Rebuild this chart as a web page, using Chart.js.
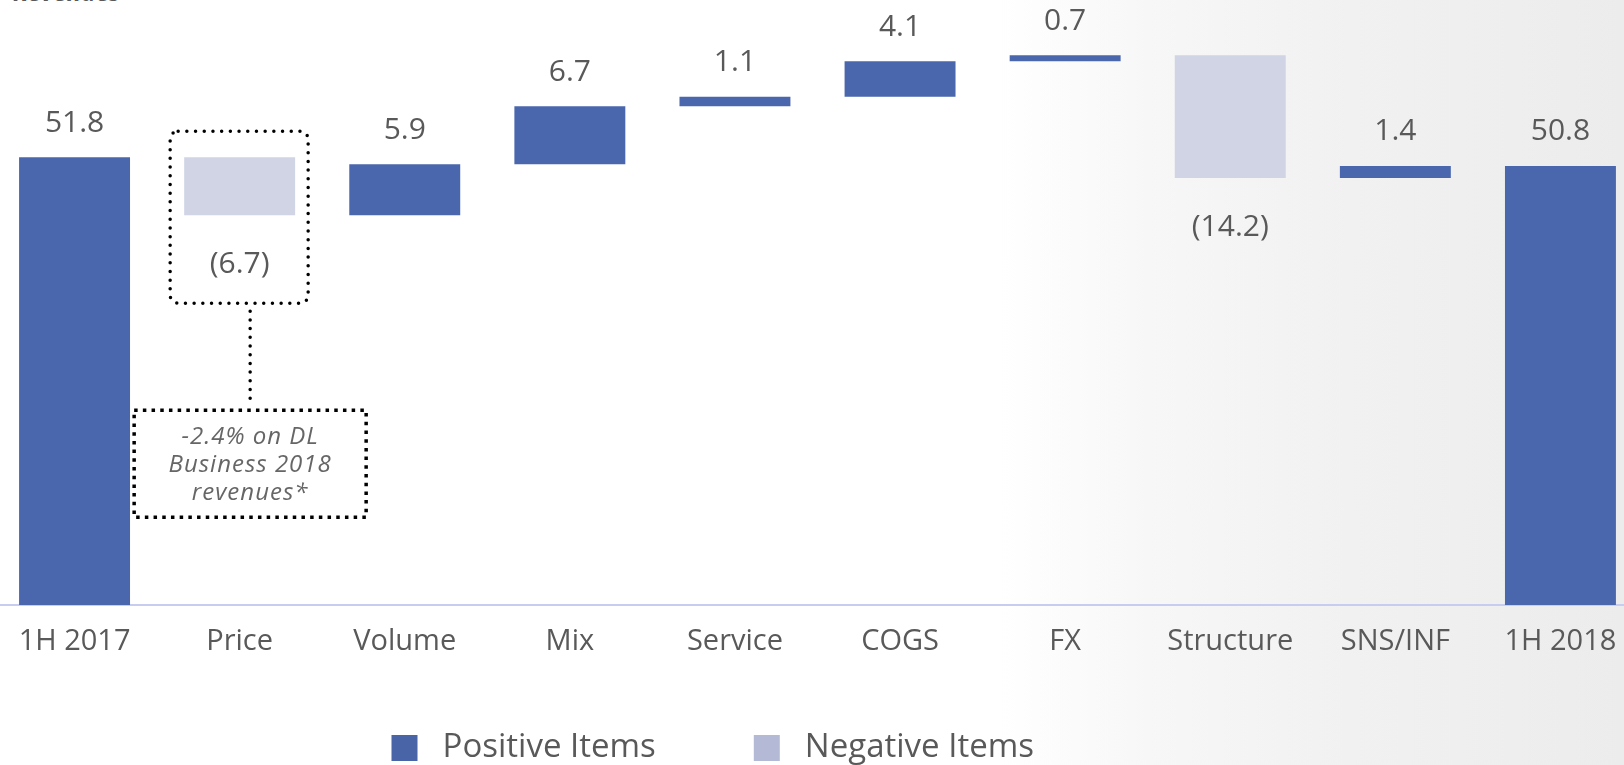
<!DOCTYPE html>
<html>
<head>
<meta charset="utf-8">
<script src="https://cdn.jsdelivr.net/npm/chart.js@4"></script>
<style>
html,body{margin:0;padding:0;width:1624px;height:765px;overflow:hidden;}
body{position:relative;background:linear-gradient(to right,#ffffff 0px,#ffffff 1000px,#f7f7f7 1150px,#f1f1f1 1350px,#ececec 1624px);font-family:'Open Sans',sans-serif;}
#wrap{position:absolute;left:-8px;top:0;width:1651px;height:765px;}
#title{position:absolute;left:13px;top:-20px;font:italic 700 24px 'Open Sans',sans-serif;color:#595959;line-height:1;white-space:nowrap;}
</style>
</head>
<body>
<div id="title">Revenues</div>
<div id="wrap"><canvas id="c" width="1651" height="765"></canvas></div>
<script>
// ---- data ----
const categories = ['1H 2017', 'Price', 'Volume', 'Mix', 'Service', 'COGS', 'FX', 'Structure', 'SNS/INF', '1H 2018'];
const values = [51.8, -6.7, 5.9, 6.7, 1.1, 4.1, 0.7, -14.2, 1.4, 50.8];
const isTotal = [true, false, false, false, false, false, false, false, false, true];
const seriesNames = ['Positive Items', 'Negative Items'];
const noteLines = ['-2.4% on DL', 'Business 2018', 'revenues*'];
const noteCategory = 'Price';

// ---- styles ----
const POS_COLOR = '#4a67ad';
const NEG_COLOR = '#d0d4e5';
const LEGEND_COLORS = ['#4a64a8', '#b4bad6'];
const TEXT_COLOR = '#595959';
const FONT = "'Open Sans', sans-serif";

// waterfall ranges (running total of the read deltas)
const posData = [], negData = [];
let running = 0;
values.forEach((v, i) => {
  let lo, hi;
  if (isTotal[i]) { lo = 0; hi = v; running = v; }
  else { lo = running; hi = running + v; running = hi; }
  const r = [Math.min(lo, hi), Math.max(lo, hi)];
  if (isTotal[i] || v >= 0) { posData.push(r); negData.push(null); }
  else { negData.push(r); posData.push(null); }
});

const fmt = v => v < 0 ? '(' + Math.abs(v).toFixed(1) + ')' : v.toFixed(1);

const valueLabels = {
  id: 'valueLabels',
  afterDatasetsDraw(chart) {
    const ctx = chart.ctx;
    ctx.save();
    ctx.font = '30px ' + FONT;
    ctx.fillStyle = TEXT_COLOR;
    ctx.textAlign = 'center';
    ctx.textBaseline = 'middle';
    values.forEach((v, i) => {
      const ds = posData[i] ? 0 : 1;
      const el = chart.getDatasetMeta(ds).data[i];
      const top = Math.min(el.y, el.base), bottom = Math.max(el.y, el.base);
      if (v >= 0) ctx.fillText(fmt(v), el.x, top - 34);
      else ctx.fillText(fmt(v), el.x, bottom + 49);
    });
    ctx.restore();
  }
};

const noteBox = {
  id: 'noteBox',
  afterDraw(chart) {
    const i = categories.indexOf(noteCategory);
    const ds = posData[i] ? 0 : 1;
    const el = chart.getDatasetMeta(ds).data[i];
    const top = Math.min(el.y, el.base), bottom = Math.max(el.y, el.base);
    const ctx = chart.ctx;
    ctx.save();
    ctx.strokeStyle = '#000000';
    ctx.lineWidth = 3.5;
    ctx.lineCap = 'round';
    ctx.setLineDash([0, 8.7]);
    ctx.beginPath();
    ctx.roundRect(el.x - 69.5, top - 26, 138, bottom + 88 - (top - 26), 8);
    ctx.stroke();
    const cx = el.x + 10.5;
    ctx.beginPath();
    ctx.moveTo(cx, bottom + 96);
    ctx.lineTo(cx, bottom + 189);
    ctx.stroke();
    ctx.lineCap = 'butt';
    ctx.setLineDash([3.5, 5.2]);
    ctx.beginPath();
    ctx.rect(el.x - 105.5, bottom + 195, 232, 107);
    ctx.stroke();
    ctx.setLineDash([]);
    ctx.font = 'italic 24px ' + FONT;
    ctx.fillStyle = '#666666';
    ctx.textAlign = 'center';
    ctx.textBaseline = 'middle';
    try { ctx.letterSpacing = '1px'; } catch (e) {}
    noteLines.forEach((t, k) => ctx.fillText(t, cx, bottom + 222 + k * 28));
    ctx.restore();
  }
};

const legendPlacer = {
  id: 'legendPlacer',
  afterLayout(chart) {
    const lg = chart.legend;
    if (!lg) return;
    lg.top = 633.5;
    lg.bottom = chart.height;
    lg.height = lg.bottom - lg.top;
    const P = lg.options.labels.padding;
    const desiredStart = 399.5;
    lg.right = 2 * desiredStart - lg.left - P + lg.lineWidths[0];
    lg.width = lg.right - lg.left;
  }
};

Chart.defaults.font.family = FONT;

new Chart(document.getElementById('c'), {
  type: 'bar',
  data: {
    labels: categories,
    datasets: [
      { label: seriesNames[0], data: posData, backgroundColor: POS_COLOR, grouped: false, barPercentage: 0.672, categoryPercentage: 1 },
      { label: seriesNames[1], data: negData, backgroundColor: NEG_COLOR, grouped: false, barPercentage: 0.672, categoryPercentage: 1 }
    ]
  },
  options: {
    responsive: false,
    animation: false,
    devicePixelRatio: 1,
    layout: { padding: 0 },
    scales: {
      x: {
        grid: { display: false, drawTicks: false },
        border: { display: true, color: '#c8ccef', width: 2 },
        ticks: { font: { family: FONT, size: 29 }, color: TEXT_COLOR, padding: 19, maxRotation: 0, autoSkip: false },
        afterFit(scale) { scale.height = 97; }
      },
      y: { display: false, min: 0, max: 70 }
    },
    plugins: {
      tooltip: { enabled: false },
      legend: {
        position: 'bottom',
        maxHeight: 63,
        labels: {
          font: { family: FONT, size: 33 },
          color: TEXT_COLOR,
          boxWidth: 26,
          boxHeight: 26,
          padding: 98,
          useBorderRadius: true,
          borderRadius: 3,
          generateLabels() {
            return seriesNames.map((t, k) => ({
              text: ' ' + t, fillStyle: LEGEND_COLORS[k], strokeStyle: LEGEND_COLORS[k],
              lineWidth: 0, datasetIndex: k, hidden: false, fontColor: TEXT_COLOR
            }));
          }
        }
      }
    }
  },
  plugins: [valueLabels, noteBox, legendPlacer]
});
</script>
</body>
</html>
